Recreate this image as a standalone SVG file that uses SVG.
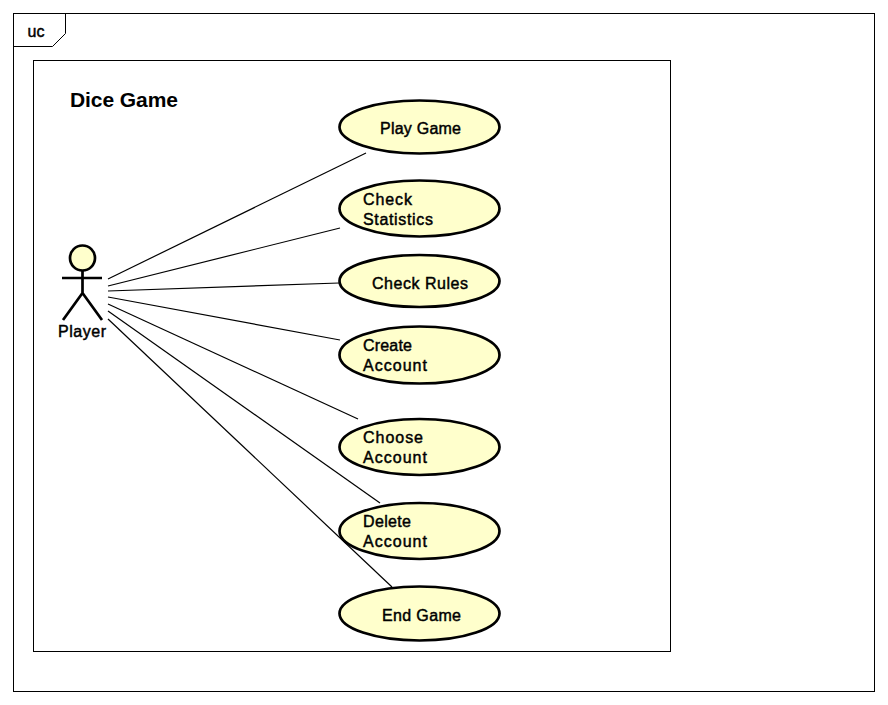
<svg xmlns="http://www.w3.org/2000/svg" width="888" height="705" viewBox="0 0 888 705">
<style>
text{font-family:"Liberation Sans",Arial,sans-serif;font-size:16px;fill:#000;stroke:#000;stroke-width:.45px}
.f{fill:#fff;stroke:#000;stroke-width:1}
.u{fill:#ffffcc;stroke:#000;stroke-width:2.7}
.c{fill:none;stroke:#000;stroke-width:1.2}
.a{fill:none;stroke:#000;stroke-width:2.7}
</style>
<rect width="888" height="705" fill="#fff"/>
<g id="frame">
<rect class="f" x="13.5" y="13.5" width="861" height="678"/>
<path class="c" d="M13.5 46.5H52.5L65.5 33.5V13.5" style="stroke-width:1"/>
<text x="27.5" y="37">uc</text>
</g>
<g id="system">
<rect class="f" x="33.5" y="60.5" width="637" height="591"/>
<text x="70" y="107" style="font-size:21px;font-weight:bold;stroke:none" textLength="108">Dice Game</text>
</g>
<g id="player">
<circle cx="82.5" cy="258" r="12.5" class="u"/>
<path class="a" d="M82.5 270.5V293M62 278H102M82.5 293L63 320M82.5 293L102 320"/>
<text x="58" y="337" textLength="48">Player</text>
</g>
<g id="play-game"><ellipse class="u" cx="419.5" cy="127" rx="80" ry="26.5"/><text x="380" y="134" textLength="81">Play Game</text></g>
<g id="check-statistics"><ellipse class="u" cx="419.5" cy="208.5" rx="80" ry="28"/><text x="363" y="205" textLength="49">Check</text><text x="363" y="225" textLength="70">Statistics</text></g>
<g id="check-rules"><ellipse class="u" cx="419.5" cy="281" rx="80" ry="26"/><text x="372" y="289" textLength="96">Check Rules</text></g>
<g id="create-account"><ellipse class="u" cx="419.5" cy="355" rx="80" ry="28.5"/><text x="363" y="351" textLength="49">Create</text><text x="363" y="371" textLength="64">Account</text></g>
<g id="choose-account"><ellipse class="u" cx="419.5" cy="447" rx="80" ry="28"/><text x="363" y="443" textLength="60">Choose</text><text x="363" y="463" textLength="64">Account</text></g>
<g id="delete-account"><ellipse class="u" cx="419.5" cy="531" rx="80" ry="28"/><text x="363" y="527" textLength="48">Delete</text><text x="363" y="547" textLength="64">Account</text></g>
<g id="end-game"><ellipse class="u" cx="419.5" cy="613.5" rx="80" ry="27"/><text x="382" y="621" textLength="79">End Game</text></g>
<g id="connectors">
<line class="c" x1="108" y1="279" x2="366" y2="153"/>
<line class="c" x1="108" y1="286" x2="340" y2="228"/>
<line class="c" x1="108" y1="291" x2="339" y2="283"/>
<line class="c" x1="108" y1="297" x2="340" y2="340"/>
<line class="c" x1="108" y1="304" x2="358" y2="419"/>
<line class="c" x1="108" y1="311" x2="380" y2="503"/>
<line class="c" x1="108" y1="319" x2="392" y2="587"/>
</g>
</svg>
